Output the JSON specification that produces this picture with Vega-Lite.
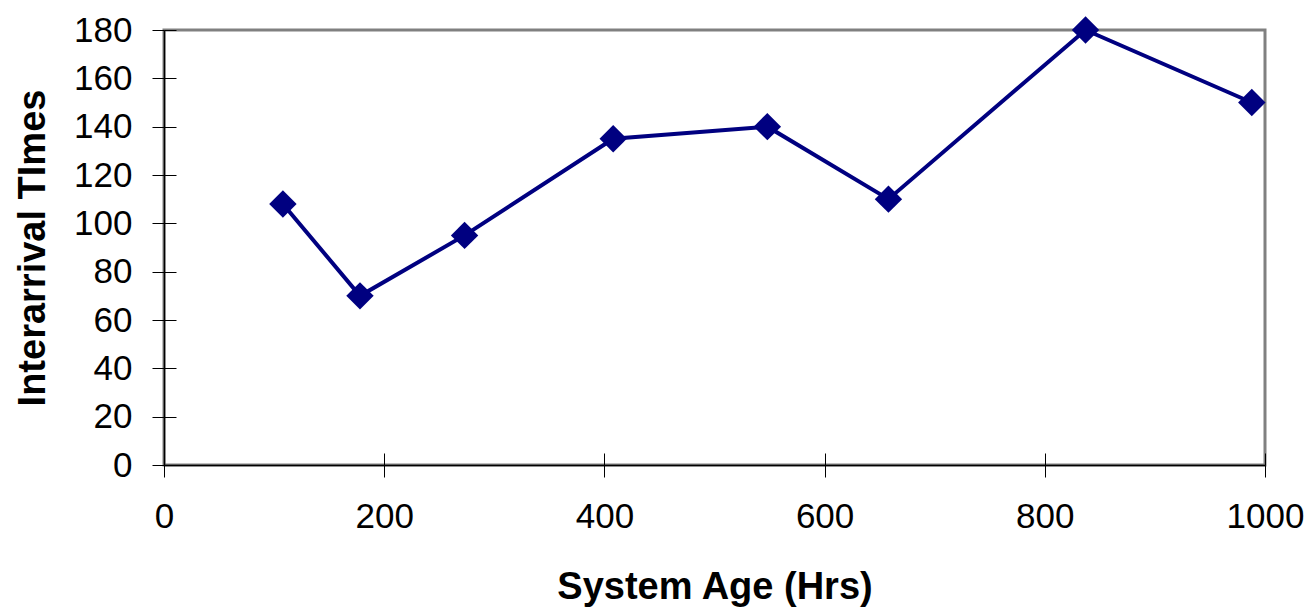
{
  "$schema": "https://vega.github.io/schema/vega-lite/v6.json",
  "width": 1101,
  "height": 435,
  "autosize": "none",
  "padding": {"left": 164, "top": 30, "right": 47, "bottom": 143},
  "background": "white",
  "config": {
    "font": "Liberation Sans",
    "view": {"stroke": "#808080", "strokeWidth": 3},
    "axis": {
      "grid": false,
      "domainColor": "#000000",
      "domainWidth": 1.5,
      "tickColor": "#000000",
      "tickWidth": 1,
      "labelFont": "Liberation Sans",
      "labelFontSize": 35,
      "labelColor": "#000000",
      "titleFont": "Liberation Sans",
      "titleFontSize": 38,
      "titleFontWeight": "bold",
      "titleColor": "#000000"
    }
  },
  "data": {
    "values": [
      {"age": 108, "time": 108},
      {"age": 178, "time": 70},
      {"age": 273, "time": 95},
      {"age": 408, "time": 135},
      {"age": 548, "time": 140},
      {"age": 658, "time": 110},
      {"age": 837, "time": 180},
      {"age": 988, "time": 150}
    ]
  },
  "layer": [
    {
      "mark": {"type": "line", "color": "#000080", "strokeWidth": 4},
      "encoding": {
        "x": {
          "field": "age", "type": "quantitative",
          "scale": {"domain": [0, 1000], "nice": false},
          "axis": {"orient": "bottom", "title": "System Age (Hrs)", "values": [0, 200, 400, 600, 800, 1000],
                   "format": "d", "tickSize": 12, "labelPadding": 22, "titlePadding": 34, "labelFlush": false}
        },
        "y": {
          "field": "time", "type": "quantitative",
          "scale": {"domain": [0, 180], "nice": false},
          "axis": {"orient": "left", "title": "Interarrival TImes", "values": [0, 20, 40, 60, 80, 100, 120, 140, 160, 180],
                   "format": "d", "tickSize": 12, "labelPadding": 20, "titlePadding": 21, "labelFlush": false}
        }
      }
    },
    {
      "mark": {"type": "point", "shape": "diamond", "filled": true, "size": 750, "color": "#000080", "opacity": 1},
      "encoding": {
        "x": {
          "field": "age", "type": "quantitative",
          "scale": {"domain": [0, 1000], "nice": false},
          "axis": {"orient": "bottom", "title": null, "labels": false, "domain": false,
                   "values": [0, 200, 400, 600, 800, 1000], "tickSize": -12}
        },
        "y": {
          "field": "time", "type": "quantitative",
          "scale": {"domain": [0, 180], "nice": false},
          "axis": {"orient": "left", "title": null, "labels": false, "domain": false,
                   "values": [0, 20, 40, 60, 80, 100, 120, 140, 160, 180], "tickSize": -12}
        }
      }
    }
  ],
  "resolve": {"axis": {"x": "independent", "y": "independent"}}
}
